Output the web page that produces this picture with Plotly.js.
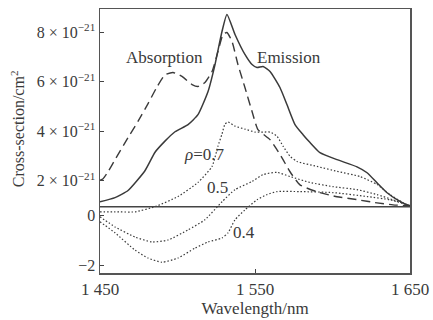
<!DOCTYPE html>
<html><head><meta charset="utf-8">
<script src="https://cdn.plot.ly/plotly-3.0.1.min.js"></script>
<style>html,body{margin:0;padding:0;background:#fff;}#chart{width:433px;height:320px;}</style>
</head><body><div id="chart"></div>
<script>
// Cross-sections in units of 1e-21 cm^2
const absWl  = [1450,1452,1455.2,1459.7,1468.1,1474.5,1481,1486.8,1491.9,1497.1,1502.9,1509.4,1513.2,1517.7,1522.3,1526.1,1529.4,1531.9,1535.2,1539,1543.5,1548.1,1551.9,1559.7,1564.2,1568.1,1572.6,1579,1590,1602.9,1615.8,1628.7,1639,1650];
const absVal = [2.02,2.08,2.36,2.85,3.74,4.40,5.12,5.80,6.28,6.38,6.22,5.89,5.81,5.97,6.42,7.23,7.92,8.00,7.63,6.70,5.77,4.80,4.07,3.66,3.25,2.85,2.36,1.83,1.55,1.35,1.23,1.10,1.02,0.98];
const emiWl  = [1450,1459.7,1468.1,1479,1485.5,1491.9,1498.4,1506.8,1513.2,1519.7,1524.2,1528.7,1531.9,1537.1,1543.5,1548.1,1551.3,1555.2,1559.7,1566.1,1570.6,1575.8,1581,1585.5,1591.9,1602.9,1615.8,1622.3,1628.7,1635.2,1641.6,1648.1,1650];
const emiVal = [1.14,1.31,1.60,2.40,3.15,3.60,3.98,4.27,4.67,5.61,6.70,8.04,8.73,7.92,7.11,6.70,6.58,6.62,6.42,5.77,5.08,4.27,3.86,3.54,3.13,2.85,2.56,2.32,1.91,1.51,1.23,1.02,0.98];
// Gain curves (lower scale)
const g07Wl  = [1450,1459.7,1472.6,1485.5,1500.3,1513.2,1522.3,1526.1,1528.7,1530.6,1532.6,1537.1,1543.5,1550,1555.2,1559.7,1564.2,1568.1,1572.6,1577.1,1590,1602.9,1617.7,1628.7,1637.1,1645.5,1650];
const g07Val = [0.16,0.16,0.16,0.37,0.78,1.35,2.00,2.82,3.31,3.71,3.80,3.63,3.51,3.39,3.39,3.39,3.22,2.82,2.41,2.20,2.00,1.80,1.59,1.27,0.86,0.53,0.41];
const g05Wl  = [1450,1459.7,1472.6,1483.5,1493.9,1506.8,1517.7,1528.7,1537.1,1548.1,1555.2,1564.2,1572.6,1585.5,1600.3,1615.8,1628.7,1639,1650];
const g05Val = [-0.04,-0.45,-0.86,-1.06,-0.98,-0.57,-0.16,0.57,1.06,1.39,1.67,1.76,1.59,1.35,1.18,1.06,0.86,0.65,0.41];
const g04Wl  = [1450,1459.7,1472.6,1481,1490,1500.3,1511.3,1519.7,1528.7,1532.6,1537.1,1543.5,1551.3,1557.7,1564.2,1579,1600.3,1622.3,1637.1,1650];
const g04Val = [-0.24,-0.69,-1.39,-1.71,-1.88,-1.71,-1.31,-1.06,-0.90,-0.69,-0.16,0.24,0.65,0.86,0.98,0.98,0.94,0.78,0.65,0.41];
const csTicks = [2,4,6,8];
const gainTicks = [0,-2];
const xTicks = [1450,1550,1650];
const xTickText = ['1 450','1 550','1 650'];
const gainLine = 0.37;

const GZ = 0.576; // position of gain zero on the shared axis
const toPlot = v => v.map(g => g + GZ);
const lc = '#3a3a3a';
const font = {family:'Liberation Serif, Times New Roman, serif', size:17, color:'#3a3a3a'};
const tfont = Object.assign({}, font, {size:16});

const sp = {shape:'spline', smoothing:0.5};
const traces = [
  {x:emiWl, y:emiVal, mode:'lines', line:Object.assign({color:lc, width:1.5}, sp)},
  {x:absWl, y:absVal, mode:'lines', line:Object.assign({color:lc, width:1.4, dash:'9px,5px'}, sp)},
  {x:g07Wl, y:toPlot(g07Val), mode:'lines', line:Object.assign({color:lc, width:1.2, dash:'1.5px,2px'}, sp)},
  {x:g05Wl, y:toPlot(g05Val), mode:'lines', line:Object.assign({color:lc, width:1.2, dash:'1.5px,2px'}, sp)},
  {x:g04Wl, y:toPlot(g04Val), mode:'lines', line:Object.assign({color:lc, width:1.2, dash:'1.5px,2px'}, sp)}
];

const tickvals = csTicks.concat(gainTicks.map(g => g + GZ));
const ticktext = csTicks.map(v => v + ' × 10<sup>−21</sup>').concat(gainTicks.map(g => g < 0 ? '−' + Math.abs(g) : String(g)));

const layout = {
  width:433, height:320,
  margin:{l:100, r:23, t:9, b:47},
  paper_bgcolor:'#fff', plot_bgcolor:'#fff',
  showlegend:false,
  font:font,
  xaxis:{range:[1450,1650], tickvals:xTicks, ticktext:xTickText, ticks:'inside', ticklen:4, tickcolor:'#444',
         showline:true, linecolor:'#555', linewidth:1.5, mirror:true, showgrid:false, zeroline:false,
         tickfont:font, title:{text:'Wavelength/nm', font:font, standoff:0}},
  yaxis:{range:[-1.74,8.95], tickvals:tickvals, ticktext:ticktext, ticks:'inside', ticklen:4, tickcolor:'#444',
         showline:true, linecolor:'#555', linewidth:1.5, mirror:true, showgrid:false, zeroline:false,
         tickfont:tfont},
  shapes:[{type:'line', xref:'paper', x0:0, x1:1, yref:'y', y0:gainLine+GZ, y1:gainLine+GZ, line:{color:'#444', width:1.5}}],
  annotations:[
    {x:1491.9, y:6.99, text:'Absorption', showarrow:false, font:font},
    {x:1571.9, y:6.99, text:'Emission', showarrow:false, font:font},
    {x:1517.7, y:3.05, text:'<i>ρ</i>=0.7', showarrow:false, font:font},
    {x:1526.1, y:1.71, text:'0.5', showarrow:false, font:font},
    {x:1542.9, y:-0.11, text:'0.4', showarrow:false, font:font},
    {xref:'paper', yref:'paper', x:-0.265, y:0.548, xanchor:'center', yanchor:'middle', text:'Cross-section/cm<sup>2</sup>', textangle:-90, showarrow:false, font:tfont}
  ]
};
Plotly.newPlot('chart', traces, layout, {staticPlot:true, displayModeBar:false});
</script></body></html>
